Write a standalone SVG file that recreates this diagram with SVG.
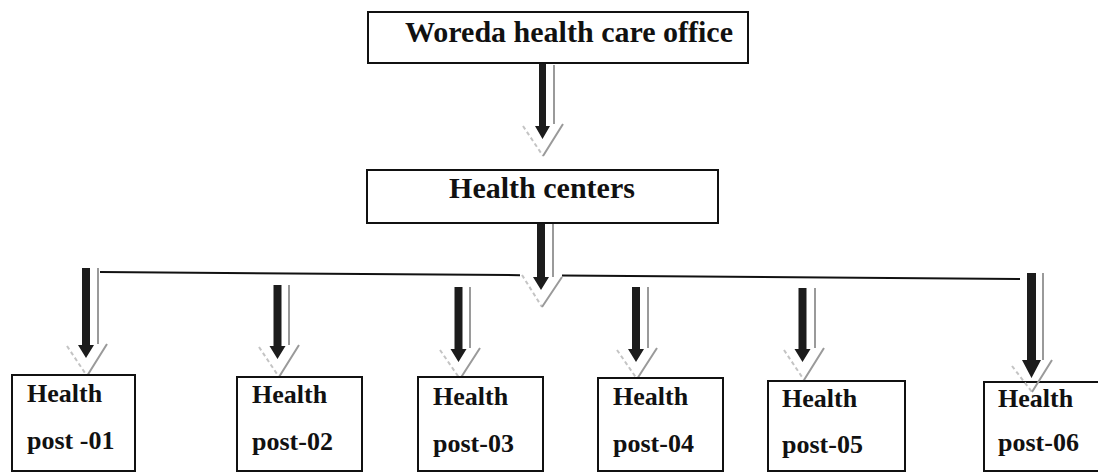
<svg xmlns="http://www.w3.org/2000/svg" width="1098" height="472" viewBox="0 0 1098 472">
<style>
.box{fill:#fff;stroke:#111;stroke-width:2}
.t{font-family:"Liberation Serif","Times New Roman",serif;font-weight:bold;fill:#111}
.big{font-size:30px}
.sm{font-size:26px}
.dark{fill:#1c1c1c}
.sh{fill:none;stroke:#9a9a9a;stroke-width:2}
.shl{fill:none;stroke:#c4c4c4;stroke-width:2;stroke-dasharray:4 3}
.line{fill:none;stroke:#111;stroke-width:2}
</style>
<rect width="1098" height="472" fill="#fff"/>
<g id="connectors">
<path class="line" d="M100,272 L520,275.2 M562,275.5 L1020,279"/>
<g id="c-top">
<path class="shl" d="M523,126 L543,156"/>
<path class="sh" d="M554,65 L554,124 M563,124 L543,156"/>
<path class="dark" d="M539,64 L546,64 L546,126 L550,126 L542.5,139 L535,126 L539,126 Z"/>
</g>
<g id="c-hc">
<path class="shl" d="M522,275 L542,307"/>
<path class="sh" d="M553,216 L553,277 M562,277 L542,307"/>
<path class="dark" d="M537,215 L545,215 L545,277 L549,277 L541,290 L533,277 L537,277 Z"/>
</g>
<g id="c-p1">
<path class="shl" d="M67,346 L87,376"/>
<path class="sh" d="M98,268 L98,344 M107,344 L87,376"/>
<path class="dark" d="M82,268 L90,268 L90,345 L94,345 L86,358 L78,345 L82,345 Z"/>
</g>
<g id="c-p2">
<path class="shl" d="M259,347 L279,377"/>
<path class="sh" d="M289,285 L289,345 M299,345 L279,377"/>
<path class="dark" d="M273.5,285 L281.5,285 L281.5,346 L285.5,346 L277.5,359 L269.5,346 L273.5,346 Z"/>
</g>
<g id="c-p3">
<path class="shl" d="M440,350 L460,379"/>
<path class="sh" d="M470,287 L470,348 M480,348 L460,379"/>
<path class="dark" d="M454.5,287 L462.5,287 L462.5,349 L466.5,349 L458.5,362 L450.5,349 L454.5,349 Z"/>
</g>
<g id="c-p4">
<path class="shl" d="M617,350 L637,379"/>
<path class="sh" d="M648,287 L648,348 M657,348 L637,379"/>
<path class="dark" d="M632,287 L640,287 L640,349 L644,349 L636,362 L628,349 L632,349 Z"/>
</g>
<g id="c-p5">
<path class="shl" d="M784,350 L804,380"/>
<path class="sh" d="M815,288 L815,348 M824,348 L804,380"/>
<path class="dark" d="M798.5,288 L806.5,288 L806.5,349 L810.5,349 L802.5,362 L794.5,349 L798.5,349 Z"/>
</g>
</g>
<g id="n-woreda">
<rect class="box" x="368" y="12" width="380" height="51"/>
<text class="t big" x="569" y="42" text-anchor="middle">Woreda health care office</text>
</g>
<g id="n-hc">
<rect class="box" x="367" y="170" width="351" height="53"/>
<text class="t big" x="542" y="198" text-anchor="middle">Health centers</text>
</g>
<g id="n-p1">
<rect class="box" x="12" y="375" width="123" height="96"/>
<text class="t sm" x="27" y="402">Health</text>
<text class="t sm" x="27" y="449">post -01</text>
</g>
<g id="n-p2">
<rect class="box" x="237" y="377" width="125" height="94"/>
<text class="t sm" x="252" y="403">Health</text>
<text class="t sm" x="252" y="450">post-02</text>
</g>
<g id="n-p3">
<rect class="box" x="418" y="377" width="125" height="94"/>
<text class="t sm" x="433" y="405">Health</text>
<text class="t sm" x="433" y="452">post-03</text>
</g>
<g id="n-p4">
<rect class="box" x="598" y="378" width="125" height="93"/>
<text class="t sm" x="613" y="405">Health</text>
<text class="t sm" x="613" y="452">post-04</text>
</g>
<g id="n-p5">
<rect class="box" x="768" y="381" width="137" height="90"/>
<text class="t sm" x="782" y="407">Health</text>
<text class="t sm" x="782" y="453">post-05</text>
</g>
<g id="n-p6">
<rect class="box" x="984" y="382" width="120" height="89"/>
<text class="t sm" x="998" y="407">Health</text>
<text class="t sm" x="998" y="451">post-06</text>
</g>
<g id="c-p6">
<path class="shl" d="M1012,366 L1032,392"/>
<path class="sh" d="M1043,273 L1043,360 M1052,360 L1032,392"/>
<path class="dark" d="M1027,273 L1036,273 L1036,360 L1041,360 L1031.5,378 L1022,360 L1027,360 Z"/>
</g>
</svg>
